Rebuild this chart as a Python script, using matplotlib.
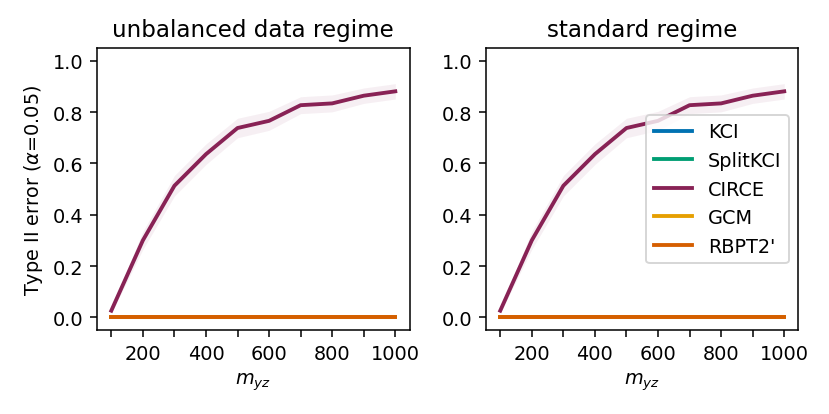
import matplotlib.pyplot as plt
import numpy as np

m_yz = [100, 200, 300, 400, 500, 600, 700, 800, 900, 1000]
circe = [0.026, 0.300, 0.513, 0.636, 0.738, 0.766, 0.827, 0.834, 0.864, 0.881]
circe_ci = [0.01, 0.035, 0.04, 0.04, 0.038, 0.037, 0.033, 0.033, 0.03, 0.03]
zeros = [0.0] * len(m_yz)

methods = ["KCI", "SplitKCI", "CIRCE", "GCM", "RBPT2'"]
colors = {"KCI": "#0072B2", "SplitKCI": "#009E73", "CIRCE": "#882255",
          "GCM": "#E69F00", "RBPT2'": "#D55E00"}
values = {"KCI": zeros, "SplitKCI": zeros, "CIRCE": circe,
          "GCM": zeros, "RBPT2'": zeros}
bands = {"CIRCE": circe_ci}
titles = ["unbalanced data regime", "standard regime"]

fig, axes = plt.subplots(1, 2, figsize=(6, 3), dpi=138.33)
for i, ax in enumerate(axes):
    for name in methods:
        y = np.array(values[name])
        ax.plot(m_yz, y, color=colors[name], label=name, lw=2)
        if name in bands:
            ci = np.array(bands[name])
            ax.fill_between(m_yz, y - ci, y + ci, color=colors[name],
                            alpha=0.07, lw=0)
    ax.set_title(titles[i], fontsize=12)
    ax.set_ylim(-0.05, 1.05)
    ax.set_xticks(m_yz)
    ax.set_xticklabels([str(v) if v % 200 == 0 else "" for v in m_yz])
    ax.set_xlabel(r"$m_{yz}$")
    ax.tick_params(labelsize=10)
axes[0].set_ylabel(r"Type II error ($\alpha$=0.05)")
axes[1].legend(loc="center right")

plt.subplots_adjust(left=0.117, right=0.962, top=0.882, bottom=0.202,
                    wspace=0.245)
plt.savefig("out.png", dpi=138.33)
